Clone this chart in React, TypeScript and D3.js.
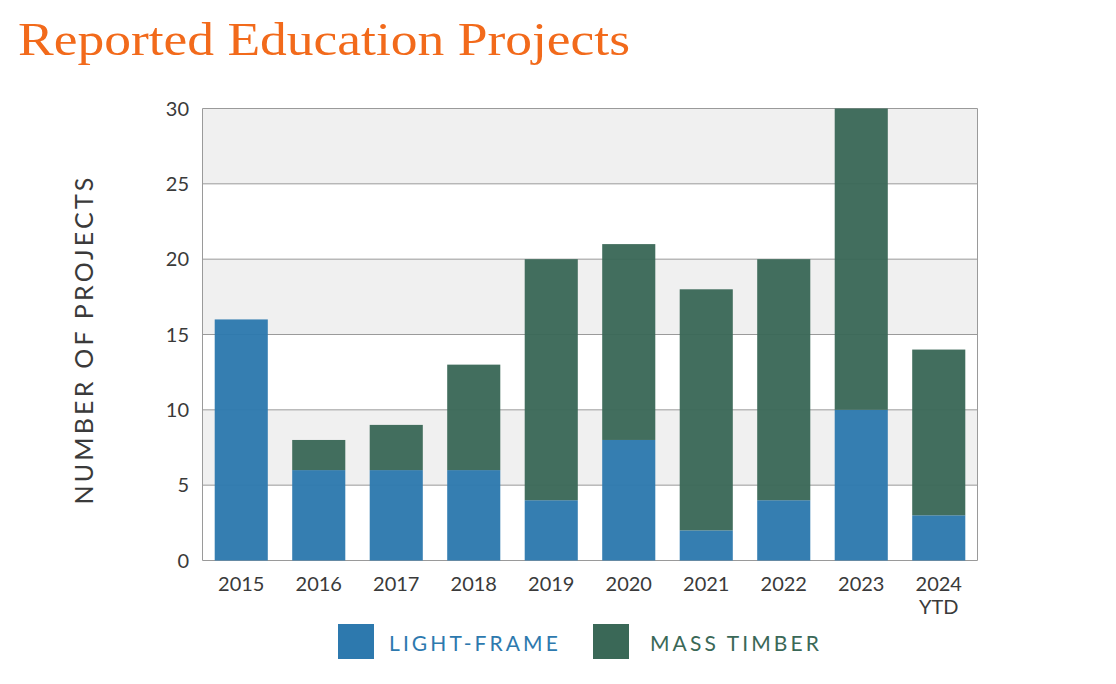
import React from "react";
import * as d3 from "d3";

const years = ["2015", "2016", "2017", "2018", "2019", "2020", "2021", "2022", "2023", "2024"];
const yearSub = ["", "", "", "", "", "", "", "", "", "YTD"];
const lightFrame = [16, 6, 6, 6, 4, 8, 2, 4, 10, 3];
const massTimber = [0, 2, 3, 7, 16, 13, 16, 16, 20, 11];
const yTicks = [0, 5, 10, 15, 20, 25, 30];
const seriesNames = ["LIGHT-FRAME", "MASS TIMBER"];
const seriesColors = ["#2d79ae", "#3a6857"];

const W = 1116;
const H = 684;
const plot = { left: 202.5, right: 977.5, top: 108.5, bottom: 560.5 };
const FONT = "Lato, 'Open Sans', sans-serif";
const legendX = [338, 593];
const legendTextX = [389, 650];

export default function App() {
  const x = d3
    .scaleBand<string>()
    .domain(years)
    .range([plot.left, plot.right])
    .paddingInner(0.315)
    .paddingOuter(0.1575);
  const y = d3.scaleLinear().domain([0, 30]).range([plot.bottom, plot.top]);

  const stackData = years.map((yr, i) => ({ year: yr, lf: lightFrame[i], mt: massTimber[i] }));
  const stacked = d3.stack<any>().keys(["lf", "mt"])(stackData);

  const bands = [];
  for (let i = 0; i < yTicks.length - 1; i++) {
    if (i % 2 === 1) bands.push([yTicks[i], yTicks[i + 1]]);
  }

  return (
    <svg width={W} height={H} style={{ display: "block", position: "absolute", left: 0, top: 0 }}>
      <rect x={0} y={0} width={W} height={H} fill="#fff" />
      <text x={18} y={55} fill="#f26a1b" fontFamily="'Liberation Serif', serif" fontSize={46} textLength={612} lengthAdjust="spacingAndGlyphs">
        Reported Education Projects
      </text>

      {bands.map((b, i) => (
        <rect key={i} x={plot.left} y={y(b[1])} width={plot.right - plot.left} height={y(b[0]) - y(b[1])} fill="#f0f0f0" />
      ))}
      {yTicks.map((t) => (
        <line key={t} x1={plot.left} x2={plot.right} y1={y(t)} y2={y(t)} stroke="#9a9a9a" strokeWidth={1} />
      ))}
      <line x1={plot.left} x2={plot.left} y1={plot.top} y2={plot.bottom} stroke="#9a9a9a" />
      <line x1={plot.right} x2={plot.right} y1={plot.top} y2={plot.bottom} stroke="#9a9a9a" />

      {stacked.map((s, si) =>
        s.map((d, i) =>
          d[1] - d[0] > 0 ? (
            <rect
              key={`${si}-${i}`}
              x={x(years[i])}
              y={y(d[1])}
              width={x.bandwidth()}
              height={y(d[0]) - y(d[1])}
              fill={seriesColors[si]}
              fillOpacity={0.96}
            />
          ) : null
        )
      )}

      {yTicks.map((t) => (
        <text key={t} x={189} y={y(t)} dy="0.36em" textAnchor="end" fontFamily={FONT} fontSize={20} fill="#3a3a3a">
          {t}
        </text>
      ))}
      {years.map((yr, i) => (
        <text key={yr} x={(x(yr) as number) + x.bandwidth() / 2} textAnchor="middle" fontFamily={FONT} fontSize={20} fill="#3a3a3a">
          <tspan x={(x(yr) as number) + x.bandwidth() / 2} y={591}>{yr}</tspan>
          {yearSub[i] ? <tspan x={(x(yr) as number) + x.bandwidth() / 2} y={614}>{yearSub[i]}</tspan> : null}
        </text>
      ))}

      <text
        transform={`translate(93, ${(plot.top + plot.bottom) / 2 + 5}) rotate(-90)`}
        textAnchor="middle"
        fontFamily={FONT}
        fontSize={25}
        letterSpacing={3.2}
        fill="#3a3a3a"
      >
        NUMBER OF PROJECTS
      </text>

      {seriesNames.map((n, i) => (
        <g key={n}>
          <rect x={legendX[i]} y={624} width={36} height={35} fill={seriesColors[i]} />
          <text x={legendTextX[i]} y={651} fontFamily={FONT} fontSize={21} letterSpacing={3.1} fill={seriesColors[i]}>
            {n}
          </text>
        </g>
      ))}
    </svg>
  );
}
